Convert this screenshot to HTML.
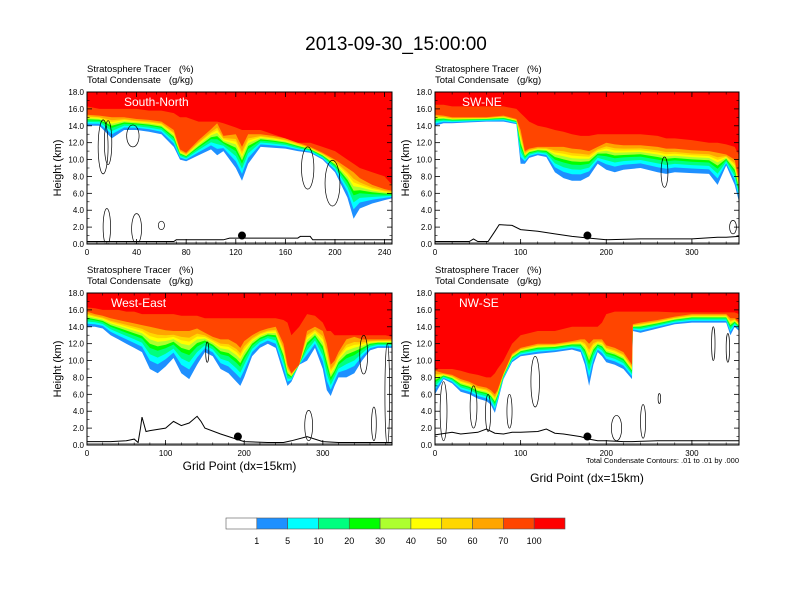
<!DOCTYPE html>
<html><head><meta charset="utf-8"><style>
body{margin:0;background:#fff;}
svg{display:block;font-family:"Liberation Sans",sans-serif;}
</style></head><body>
<svg id="fig" width="792" height="612" viewBox="0 0 792 612" xmlns="http://www.w3.org/2000/svg">
<rect width="792" height="612" fill="#fff"/>
<text x="396" y="50" font-size="19" text-anchor="middle" fill="#000">2013-09-30_15:00:00</text>
</svg>
<script>
// ---- colour levels (tracer %) ----
const levels = [1,5,10,20,30,40,50,60,70,100];
const levelColors = ['#1e90ff','#00ffff','#00ff7f','#00ff00','#adff2f','#ffff00','#ffd700','#ffa500','#ff4500','#ff0000'];
const levelFrac = [0,0.2,0.35,0.5,0.6,0.7,0.78,0.86,1.0];
const yTicks = [0,2,4,6,8,10,12,14,16,18];

// ---- panel 1 South-North ----
const p1X   = [0,10,20,30,40,50,60,70,75,80,90,100,105,110,120,125,130,140,150,160,170,180,190,200,210,215,220,230,240,246];
const p1Bot = [14.0,14.0,12.5,13.5,13.5,13.3,13.0,11.5,10.0,9.8,10.5,11.2,10.5,11.0,9.0,7.5,9.5,11.5,11.4,11.3,11.0,10.8,10.0,8.5,5.5,3.0,4.2,4.8,5.2,5.4];
const p1Mid = [15.3,15.2,15.0,15.0,14.8,14.7,14.5,13.5,11.2,10.8,12.3,13.6,14.3,12.8,13.0,11.5,13.0,13.0,12.8,12.5,12.0,11.5,10.8,10.0,9.0,8.5,7.8,7.0,6.5,6.3];
const p1Top = [16.3,16.0,16.0,16.0,16.0,15.8,15.8,15.5,15.0,15.0,14.5,14.5,14.5,14.3,13.8,13.5,13.5,13.5,13.0,12.5,12.0,12.0,11.5,11.0,10.0,9.5,9.0,8.5,8.0,7.0];
const p1TerrX = [0,70,72,110,115,170,172,180,182,246];
const p1TerrY = [0.3,0.3,0.5,0.5,0.7,0.7,0.9,0.9,0.5,0.5];
const p1Loops = [[13,11.5,4,3.2],[17,12,3,2.6],[37,12.8,5,1.3],[178,9,5,2.5],[198,7.2,6,2.7],[16,2,3,2.2],[40,1.8,4,1.8],[60,2.2,2.5,0.5]];
const p1Dot = [125,1.0];
const p1XTicks = [0,40,80,120,160,200,240];

// ---- panel 2 SW-NE ----
const p2X   = [0,10,20,40,60,80,95,100,105,110,120,130,140,150,160,170,180,190,200,210,220,240,260,270,280,300,320,330,340,350,355];
const p2Bot = [14.0,14.3,14.3,14.4,14.5,14.5,14.2,9.5,9.5,10.2,10.5,10.3,8.5,7.8,7.5,7.5,8.0,9.5,8.8,8.5,8.8,9.0,8.5,8.3,8.5,8.4,8.3,7.0,9.3,7.0,5.0];
const p2Mid = [15.3,15.2,15.0,15.0,15.0,15.2,14.8,13.5,11.0,11.3,11.5,11.5,11.5,11.5,11.3,11.2,11.0,11.5,12.0,11.8,11.7,11.7,11.5,11.3,11.3,11.1,11.0,10.8,10.6,10.0,7.5];
const p2Top = [16.5,16.5,16.3,16.3,16.3,16.3,16.0,15.5,15.0,14.5,14.0,13.8,13.5,13.3,13.0,12.8,12.8,13.0,13.0,13.0,13.0,13.0,12.8,12.5,12.5,12.3,12.0,12.0,11.8,11.5,10.5];
const p2TerrX = [0,40,45,50,62,70,75,90,100,120,140,160,180,200,240,300,330,340,355];
const p2TerrY = [0.3,0.3,0.6,0.3,0.3,1.5,2.3,2.2,1.7,1.5,1.2,0.9,0.7,0.5,0.6,0.6,0.8,0.8,0.9];
const p2Loops = [[268,8.5,4,1.8],[348,2,4,0.8]];
const p2Dot = [178,1.0];
const p2XTicks = [0,100,200,300];

// ---- panel 3 West-East ----
const p3X   = [0,10,20,30,40,50,60,70,80,90,100,110,120,130,140,150,160,170,180,190,195,200,210,220,230,240,250,255,260,270,280,290,300,305,310,315,320,330,340,350,360,370,380,388];
const p3Bot = [14.0,14.0,13.8,13.0,12.5,12.0,11.5,11.0,9.0,8.5,9.3,10.3,8.5,7.8,9.5,11.0,10.5,9.0,8.5,7.5,7.0,8.0,10.5,11.5,12.0,11.5,8.5,7.0,7.5,9.5,10.0,11.5,9.0,6.5,5.8,7.0,8.0,8.0,8.5,10.0,11.2,11.5,11.5,11.5];
const p3Mid = [15.8,15.5,15.3,15.0,14.8,14.6,14.4,14.2,14.0,13.8,13.6,13.5,13.5,13.5,13.8,13.3,12.8,12.5,12.5,12.0,11.5,12.3,13.0,13.5,13.8,14.0,12.0,9.5,8.5,9.5,13.5,14.0,13.5,12.0,9.5,10.0,11.0,12.5,12.8,12.5,12.5,12.5,12.5,12.5];
const p3Top = [16.3,16.2,16.0,16.0,16.0,15.8,15.8,15.5,15.5,15.5,15.5,15.5,15.3,15.3,15.3,15.0,15.0,15.0,15.0,15.0,15.0,15.0,15.0,15.0,15.0,15.0,14.8,14.5,13.0,14.0,15.5,15.3,14.5,13.5,13.5,13.0,13.0,13.0,13.0,13.0,13.0,13.0,13.0,12.8];
const p3TerrX = [0,30,50,60,65,68,70,75,80,100,110,120,130,140,145,150,170,190,200,230,250,260,280,300,320,380,388];
const p3TerrY = [0.4,0.4,0.5,0.7,0.3,2.0,3.3,1.6,1.7,2.0,2.8,2.3,2.6,3.4,2.8,2.0,1.3,0.7,0.4,0.3,0.3,0.5,1.0,0.4,0.3,0.3,0.3];
const p3Loops = [[153,11,2,1.2],[352,10.7,5,2.3],[282,2.3,5,1.8],[365,2.5,3,2],[382,6,3,6]];
const p3Dot = [192,1.0];
const p3XTicks = [0,100,200,300];

// ---- panel 4 NW-SE ----
const p4X   = [0,10,20,30,40,50,60,65,70,73,80,90,100,120,140,160,170,175,180,185,190,195,200,210,220,230,231,240,260,280,300,320,340,345,350,355];
const p4Bot = [6.0,7.8,7.3,6.3,6.0,5.5,5.2,4.8,3.8,5.0,7.8,9.8,10.5,10.8,11.0,11.3,11.0,9.5,7.0,9.5,11.0,10.5,9.8,9.5,9.0,7.8,13.5,13.3,13.8,14.3,14.5,14.5,14.5,13.0,14.0,13.5];
const p4Mid = [8.8,8.5,8.3,7.8,7.5,7.0,6.8,6.5,6.0,6.5,8.5,10.8,11.5,12.0,12.0,12.3,12.5,12.5,12.0,12.5,12.5,12.5,11.8,11.5,11.0,9.5,14.3,14.5,14.8,15.2,15.5,15.5,15.5,15.0,15.0,14.5];
const p4Top = [9.0,9.0,9.0,8.8,8.5,8.3,8.0,8.0,8.5,9.0,10.0,12.0,13.0,13.5,13.5,14.0,14.0,14.0,14.0,14.0,14.0,14.5,15.5,15.8,15.8,15.8,15.8,15.8,15.8,15.7,15.7,15.7,15.7,15.7,15.7,15.5];
const p4TerrX = [0,20,30,50,60,70,80,90,100,120,130,140,150,170,180,190,200,220,230,260,300,355];
const p4TerrY = [1.2,1.5,1.3,1.5,1.9,1.4,1.3,1.5,1.5,1.6,1.9,1.4,1.3,1.0,0.7,0.5,0.5,0.4,0.4,0.5,0.5,0.5];
const p4Loops = [[10,4,4,3.5],[45,4.5,4,2.5],[62,3.8,3,2.2],[117,7.5,5,3],[87,4,3,2],[212,2,6,1.5],[243,2.8,3,2],[262,5.5,1.5,0.6],[342,11.5,2,1.7],[325,12,2,2]];
const p4Dot = [178,1.0];
const p4XTicks = [0,100,200,300];

const NS='http://www.w3.org/2000/svg';
const svg=document.getElementById('fig');
function mk(tag,attrs,parent){const e=document.createElementNS(NS,tag);for(const k in attrs)e.setAttribute(k,attrs[k]);(parent||svg).appendChild(e);return e;}

const panels=[
 {id:'south-north',label:'South-North',L:87,T:92,W:305,H:152,xmax:246,X:p1X,bot:p1Bot,mid:p1Mid,top:p1Top,tx:p1TerrX,ty:p1TerrY,loops:p1Loops,dot:p1Dot,ticks:p1XTicks,minor:8,xt:false},
 {id:'sw-ne',label:'SW-NE',L:435,T:92,W:304,H:152,xmax:355,X:p2X,bot:p2Bot,mid:p2Mid,top:p2Top,tx:p2TerrX,ty:p2TerrY,loops:p2Loops,dot:p2Dot,ticks:p2XTicks,minor:20,xt:false},
 {id:'west-east',label:'West-East',L:87,T:293,W:305,H:152,xmax:388,X:p3X,bot:p3Bot,mid:p3Mid,top:p3Top,tx:p3TerrX,ty:p3TerrY,loops:p3Loops,dot:p3Dot,ticks:p3XTicks,minor:20,xt:true,xtY:470},
 {id:'nw-se',label:'NW-SE',L:435,T:293,W:304,H:152,xmax:355,X:p4X,bot:p4Bot,mid:p4Mid,top:p4Top,tx:p4TerrX,ty:p4TerrY,loops:p4Loops,dot:p4Dot,ticks:p4XTicks,minor:20,xt:true,xtY:482,note:true}
];

panels.forEach((p,pi)=>{
 const g=mk('g',{});
 
 
 const sx=v=>p.L+v/p.xmax*p.W, sy=v=>p.T+p.H-v/18*p.H;
 const cid='clip'+pi;
 const cp=mk('clipPath',{id:cid},g); mk('rect',{x:p.L,y:p.T,width:p.W,height:p.H},cp);
 const fg=mk('g',{'clip-path':'url(#'+cid+')'},g);
 function areaAbove(hs,color,name){
   let d='M'+sx(p.X[0])+','+sy(18.5);
   p.X.forEach((x,i)=>{d+=' L'+sx(x).toFixed(1)+','+sy(hs[i]).toFixed(1);});
   d+=' L'+sx(p.X[p.X.length-1])+','+sy(18.5)+'Z';
   const e=mk('path',{d:d,fill:color},fg);
   
   
 }
 levelFrac.forEach((f,k)=>{
   const hs=p.bot.map((b,i)=>b+(p.mid[i]-b)*f);
   areaAbove(hs,levelColors[k],'tracer-band-'+levels[k]);
 });
 areaAbove(p.top.map((t,i)=>Math.max(t,p.mid[i])),levelColors[9],'tracer-band-100');
 p.loops.forEach(l=>{
   const e=mk('ellipse',{cx:sx(l[0]),cy:sy(l[1]),rx:l[2]/p.xmax*p.W,ry:l[3]/18*p.H,fill:'none',stroke:'#000','stroke-width':0.7},fg);
   
   
 });
 let td=''; p.tx.forEach((x,i)=>{td+=(i?' L':'M')+sx(x).toFixed(1)+','+sy(p.ty[i]).toFixed(1);});
 const te=mk('path',{d:td,fill:'none',stroke:'#000','stroke-width':1},fg);
 
 
 const gl=mk('line',{x1:p.L,x2:p.L+p.W,y1:sy(0.15),y2:sy(0.15),stroke:'#888','stroke-width':1.2},fg);
 
 
 const dot=mk('circle',{cx:sx(p.dot[0]),cy:sy(p.dot[1]),r:4,fill:'#000'},g);
 
 
 const fr=mk('rect',{x:p.L,y:p.T,width:p.W,height:p.H,fill:'none',stroke:'#000','stroke-width':1},g);
 
 
 yTicks.forEach(v=>{
   const y=sy(v);
   mk('line',{x1:p.L,x2:p.L+5,y1:y,y2:y,stroke:'#000','stroke-width':0.8},g);
   mk('line',{x1:p.L+p.W,x2:p.L+p.W-5,y1:y,y2:y,stroke:'#000','stroke-width':0.8},g);
   const t=mk('text',{x:p.L-3,y:y+3,'font-size':8,'text-anchor':'end'},g);
   t.textContent=v.toFixed(1);
   
   
 });
 for(let v=1;v<18;v+=2){const y=sy(v);
   mk('line',{x1:p.L,x2:p.L+2.5,y1:y,y2:y,stroke:'#000','stroke-width':0.6},g);
   mk('line',{x1:p.L+p.W,x2:p.L+p.W-2.5,y1:y,y2:y,stroke:'#000','stroke-width':0.6},g);}
 for(let v=0;v<=p.xmax;v+=p.minor){const x=sx(v);
   mk('line',{x1:x,x2:x,y1:p.T+p.H,y2:p.T+p.H-2.5,stroke:'#000','stroke-width':0.6},g);
   mk('line',{x1:x,x2:x,y1:p.T,y2:p.T+2.5,stroke:'#000','stroke-width':0.6},g);}
 p.ticks.forEach(v=>{const x=sx(v);
   mk('line',{x1:x,x2:x,y1:p.T+p.H,y2:p.T+p.H-5,stroke:'#000','stroke-width':0.8},g);
   mk('line',{x1:x,x2:x,y1:p.T,y2:p.T+5,stroke:'#000','stroke-width':0.8},g);
   const t=mk('text',{x:x,y:p.T+p.H+11,'font-size':8,'text-anchor':'middle'},g);
   t.textContent=v;
   
   
 });
 const yt=mk('text',{x:0,y:0,'font-size':11,'text-anchor':'middle',transform:'translate('+(p.L-26)+','+(p.T+p.H/2)+') rotate(-90)'},g);
 yt.textContent='Height (km)';
 
 
 const s1=mk('text',{x:p.L,y:p.T-20,'font-size':9.5},g);
 s1.textContent='Stratosphere Tracer   (%)';
 
 
 s1.style.whiteSpace='pre';
 const s2=mk('text',{x:p.L,y:p.T-9,'font-size':9.5},g);
 s2.textContent='Total Condensate   (g/kg)';
 
 
 s2.style.whiteSpace='pre';
 const pl=mk('text',{x:p.L+(p.label==='South-North'?37:p.label==='SW-NE'?27:24),y:p.T+14,'font-size':12,fill:'#fff'},g);
 pl.textContent=p.label;
 
 
 if(p.xt){
   const xt=mk('text',{x:p.L+p.W/2,y:p.xtY,'font-size':12,'text-anchor':'middle'},g);
   xt.textContent='Grid Point (dx=15km)';
   
   
 }
 if(p.note){
   const n=mk('text',{x:p.L+p.W,y:p.T+p.H+18,'font-size':7.5,'text-anchor':'end'},g);
   n.textContent='Total Condensate Contours: .01 to .01 by .000';
   
   
 }
});

const lb=mk('g',{});


const barColors=['#ffffff'].concat(levelColors);
const bx=226,bw=339/11;
barColors.forEach((c,i)=>{
 const r=mk('rect',{x:bx+i*bw,y:518,width:bw,height:11,fill:c,stroke:'#555','stroke-width':0.6},lb);
 
 
});
levels.forEach((v,i)=>{
 const t=mk('text',{x:bx+(i+1)*bw,y:544,'font-size':9,'text-anchor':'middle'},lb);
 t.textContent=v;
 
 
});
</script>
</body></html>
